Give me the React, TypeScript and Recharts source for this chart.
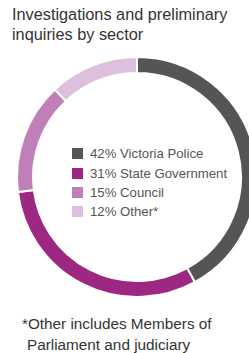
import React from 'react';
import { PieChart, Pie, Cell, Legend } from 'recharts';

const sectors = ['Victoria Police', 'State Government', 'Council', 'Other*'];
const shares = [42, 31, 15, 12];
const titleLines = ['Investigations and preliminary', 'inquiries by sector'];
const noteLines = ['*Other includes Members of', 'Parliament and judiciary'];

const sliceColors = ['#555555', '#9c2882', '#c07fb8', '#dcc0dc'];

const data = sectors.map((name, i) => ({ name, value: shares[i] }));

const FONT = '"Liberation Sans", Arial, sans-serif';

const renderLegend = (props: any) => {
  const payload = [...(props.payload || [])].sort(
    (a: any, b: any) => sectors.indexOf(a.value) - sectors.indexOf(b.value)
  );
  return (
    <div style={{ fontFamily: FONT }}>
      {payload.map((entry: any, i: number) => {
        const idx = sectors.indexOf(entry.value);
        return (
          <div
            key={i}
            style={{ display: 'flex', alignItems: 'center', height: 19.4 }}
          >
            <div
              style={{
                width: 11,
                height: 11,
                background: entry.color,
                marginRight: 7,
                flex: 'none',
              }}
            />
            <span style={{ fontSize: 13.2, color: '#555555', whiteSpace: 'nowrap' }}>
              {`${shares[idx]}% ${entry.value}`}
            </span>
          </div>
        );
      })}
    </div>
  );
};

export default function App() {
  return (
    <div
      style={{
        position: 'absolute',
        left: 0,
        top: 0,
        width: 249,
        height: 353,
        overflow: 'hidden',
        background: '#ffffff',
      }}
    >
      <div
        style={{
          position: 'absolute',
          left: 12,
          top: 5,
          fontFamily: FONT,
          fontSize: 16.3,
          lineHeight: '19.5px',
          color: '#333333',
          whiteSpace: 'nowrap',
          zIndex: 2,
        }}
      >
        {titleLines.map((t, i) => (
          <div key={i}>{t}</div>
        ))}
      </div>
      <div style={{ position: 'absolute', left: 0, top: 0 }}>
        <PieChart width={249} height={353} margin={{ top: 0, right: 0, bottom: 0, left: 0 }}>
          <Pie
            data={data}
            dataKey="value"
            nameKey="name"
            cx={137}
            cy={177}
            innerRadius={104}
            outerRadius={120}
            startAngle={90}
            endAngle={-270}
            stroke="#ffffff"
            strokeWidth={2}
            isAnimationActive={false}
          >
            {data.map((d, i) => (
              <Cell key={d.name} fill={sliceColors[i]} />
            ))}
          </Pie>
          <Legend
            content={renderLegend}
            layout="vertical"
            itemSorter={null as any}
            wrapperStyle={{ position: 'absolute', left: 72, top: 144, width: 175, bottom: 'auto' }}
          />
        </PieChart>
      </div>
      {noteLines.map((t, i) => (
        <div
          key={i}
          style={{
            position: 'absolute',
            left: i === 0 ? 22 : 27,
            top: 314 + i * 21,
            fontFamily: FONT,
            fontSize: 15.3,
            lineHeight: '20px',
            color: '#333333',
            whiteSpace: 'nowrap',
          }}
        >
          {t}
        </div>
      ))}
    </div>
  );
}
